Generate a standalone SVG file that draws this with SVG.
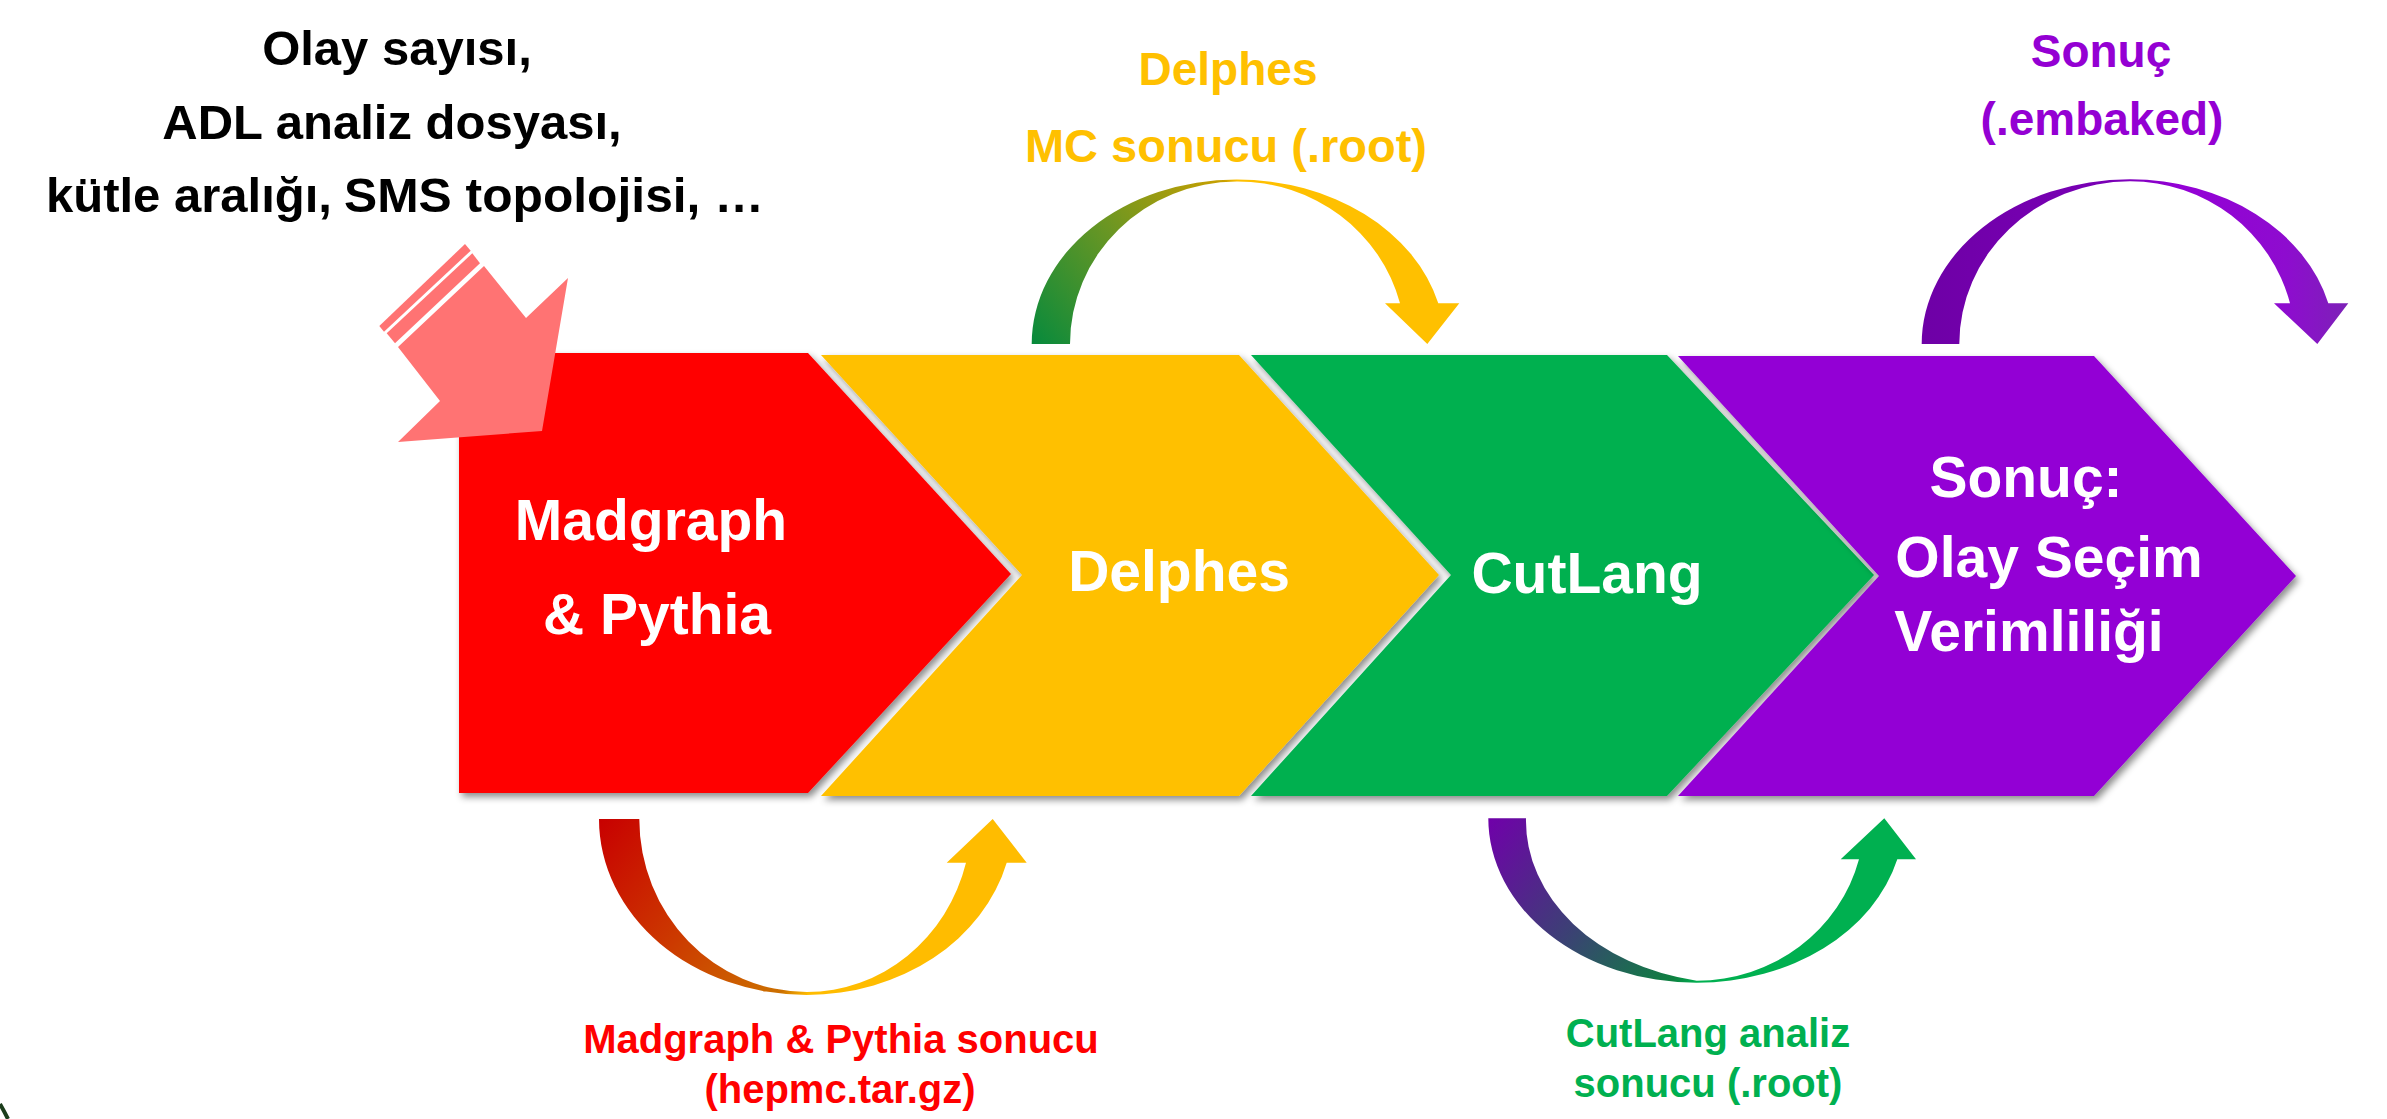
<svg xmlns="http://www.w3.org/2000/svg" width="2387" height="1119" viewBox="0 0 2387 1119">
<style>
text{font-family:"Liberation Sans",Arial,sans-serif;font-weight:bold;}
.w{fill:#fff;font-size:57px;text-anchor:middle;}
.blk{fill:#000;font-size:49px;text-anchor:middle;}
.yl{fill:#FFC000;font-size:46px;text-anchor:middle;}
.pl{fill:#9400D3;font-size:46px;text-anchor:middle;}
.rl{fill:#FF0000;font-size:40px;text-anchor:middle;}
.gl{fill:#00B050;font-size:40px;text-anchor:middle;}
.chev{filter:url(#sh);}
</style>
<defs>
<filter id="sh" x="-5%" y="-5%" width="115%" height="115%">
<feDropShadow dx="3" dy="4" stdDeviation="3.5" flood-color="#000" flood-opacity="0.45"/>
</filter>
<linearGradient id="gTop1" gradientUnits="userSpaceOnUse" x1="1032" y1="344" x2="1237" y2="180">
<stop offset="0" stop-color="#078A3C"/>
<stop offset="0.5" stop-color="#6A9623"/>
<stop offset="0.96" stop-color="#C9A000"/>
<stop offset="1" stop-color="#FFC000"/>
</linearGradient>
<linearGradient id="gTop2" gradientUnits="userSpaceOnUse" x1="1922" y1="0" x2="2350" y2="0">
<stop offset="0" stop-color="#6E00A6"/>
<stop offset="0.45" stop-color="#7A00B6"/>
<stop offset="0.6" stop-color="#9400D6"/>
<stop offset="0.85" stop-color="#8E0CCF"/>
<stop offset="1" stop-color="#7C22B6"/>
</linearGradient>
<linearGradient id="gBot1" gradientUnits="userSpaceOnUse" x1="599" y1="819" x2="807" y2="995">
<stop offset="0" stop-color="#C80000"/>
<stop offset="0.5" stop-color="#CC3A00"/>
<stop offset="0.92" stop-color="#CC7000"/>
<stop offset="1" stop-color="#FFBC00"/>
</linearGradient>
<linearGradient id="gBot2" gradientUnits="userSpaceOnUse" x1="1488" y1="818" x2="1697" y2="983">
<stop offset="0" stop-color="#7000AA"/>
<stop offset="0.5" stop-color="#3C4075"/>
<stop offset="0.92" stop-color="#0E8040"/>
<stop offset="1" stop-color="#00B050"/>
</linearGradient>
</defs>
<rect width="2387" height="1119" fill="#fff"/>

<g id="input-label">
<text class="blk" x="397" y="65">Olay sayısı,</text>
<text class="blk" x="392" y="139">ADL analiz dosyası,</text>
<text class="blk" x="46" y="212" style="text-anchor:start">kütle aralığı,</text>
<text class="blk" x="344" y="212" style="text-anchor:start" textLength="420" lengthAdjust="spacingAndGlyphs">SMS topolojisi, …</text>
</g>

<g id="node-madgraph">
<polygon class="chev" fill="#FF0000" points="459,353 808,353 1011,574 808,793 459,793"/>
<text class="w" x="651" y="540">Madgraph</text>
<text class="w" x="657" y="634">&amp; Pythia</text>
</g>
<g id="node-delphes">
<polygon class="chev" fill="#FFC000" points="821,355 1239,355 1439,575 1239,796 821,796 1022,575"/>
<text class="w" x="1179" y="591">Delphes</text>
</g>
<g id="node-cutlang">
<polygon class="chev" fill="#00B050" points="1251,355 1667,355 1874,575 1667,796 1251,796 1451,575"/>
<text class="w" x="1587" y="593">CutLang</text>
</g>
<g id="node-sonuc">
<polygon class="chev" fill="#9300D5" points="1678,356 2094,356 2296,576 2094,796 1678,796 1879,576"/>
<text class="w" x="2026" y="497">Sonuç:</text>
<text class="w" x="2049" y="577">Olay Seçim</text>
<text class="w" x="2029" y="651">Verimliliği</text>
</g>

<g id="connectors">
<g id="input-arrow" fill="#FF7373">
<polygon points="484,266 526,318 568,278 542,431 398,442 440,401 398,347"/>
<polygon points="465,244 470.7,250.7 384,331.7 379.3,326"/>
<polygon points="472.3,253.3 480,263.3 395,343.3 386.7,333.3"/>
</g>
<path id="arc-delphes" fill="url(#gTop1)" d="M1031.7,344 A205,164.5 0 0 1 1236.7,179.5 A208,164.5 0 0 1 1438.3,303.3 L1459.3,303.3 L1427.3,344 L1385,303.3 L1400,303.3 A168,162.5 0 0 0 1236.7,181.5 A167,162.5 0 0 0 1070,344 Z"/>
<path id="arc-sonuc" fill="url(#gTop2)" d="M1921.7,344 A208.3,164.7 0 0 1 2130,179.3 A204.7,164.7 0 0 1 2328.3,303.3 L2348.3,303.3 L2317.3,344 L2274,303.3 L2290,303.3 A165,162.7 0 0 0 2130,181.3 A170.7,162.7 0 0 0 1959.3,344 Z"/>
<path id="arc-madgraph" fill="url(#gBot1)" d="M599,819 A207.7,176 0 0 0 806.7,995 A206.5,176 0 0 0 1006.7,862.7 L1026.7,862.7 L992.7,819 L946.7,862.7 L966,862.7 A164.4,173 0 0 1 806.7,992 A167.7,173 0 0 1 639.3,819 Z"/>
<path id="arc-cutlang" fill="url(#gBot2)" d="M1488.3,818.3 A208.4,164.4 0 0 0 1696.7,982.7 A207.2,164.4 0 0 0 1897.3,859.3 L1916,859.3 L1884.3,818.3 L1840.7,859.3 L1859,859.3 A167.7,162.5 0 0 1 1696.7,980.7 A208.4,162.5 0 0 1 1526,818.3 Z"/>
</g>

<g id="labels">
<text class="yl" x="1228" y="85">Delphes</text>
<text class="yl" x="1226" y="162" style="font-size:47px">MC sonucu (.root)</text>
<text class="pl" x="2101" y="67">Sonuç</text>
<text class="pl" x="2102" y="135">(.embaked)</text>
<text class="rl" x="841" y="1053">Madgraph &amp; Pythia sonucu</text>
<text class="rl" x="840" y="1103">(hepmc.tar.gz)</text>
<text class="gl" x="1708" y="1047">CutLang analiz</text>
<text class="gl" x="1708" y="1097">sonucu (.root)</text>
</g>
<path d="M0,1104 Q4,1111 8,1119" fill="none" stroke="#1B3D1B" stroke-width="4"/>
</svg>
